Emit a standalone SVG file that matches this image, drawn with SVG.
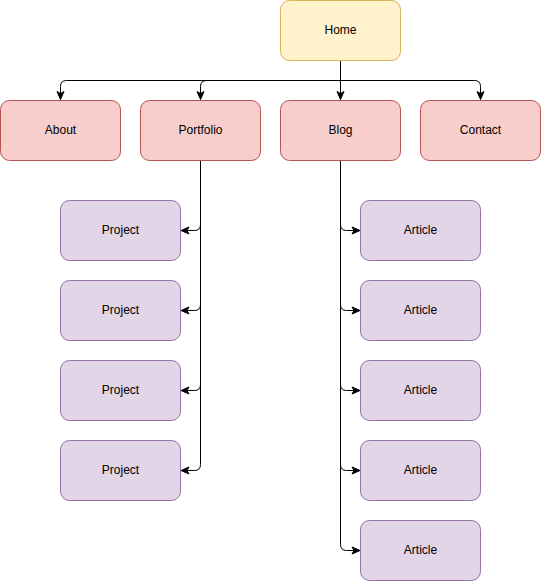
<svg xmlns="http://www.w3.org/2000/svg" width="541" height="581" viewBox="0 0 541 581">
<style>
.y{fill:#fff2cc;stroke:#d6b656;stroke-width:1}
.r{fill:#f8cecc;stroke:#b85450;stroke-width:1}
.p{fill:#e1d5e7;stroke:#9673a6;stroke-width:1}
text{font-family:"Liberation Sans",Arial,sans-serif;font-size:12px;fill:#000;text-anchor:middle;dominant-baseline:central}
.e{fill:none;stroke:#000;stroke-width:1;marker-end:url(#a)}
</style>
<defs>
<marker id="a" markerUnits="userSpaceOnUse" markerWidth="10" markerHeight="10" viewBox="0 0 10 10" refX="9" refY="5" orient="auto">
<path d="M1,1.5 L9,5 L1,8.5 L3,5 Z" fill="#000" stroke="#000" stroke-width="1"/>
</marker>
</defs>
<rect width="541" height="581" fill="#fff"/>
<g id="connectors">
<path class="e" d="M340.5,60.5 V80.5 H66.5 Q60.5,80.5 60.5,86.5 V99.5"/>
<path class="e" d="M340.5,60.5 V80.5 H206.5 Q200.5,80.5 200.5,86.5 V99.5"/>
<path class="e" d="M340.5,60.5 V99.5"/>
<path class="e" d="M340.5,60.5 V80.5 H474.5 Q480.5,80.5 480.5,86.5 V99.5"/>
<path class="e" d="M200.5,160.5 V224.5 Q200.5,230.5 194.5,230.5 H181"/>
<path class="e" d="M200.5,160.5 V304.5 Q200.5,310.5 194.5,310.5 H181"/>
<path class="e" d="M200.5,160.5 V384.5 Q200.5,390.5 194.5,390.5 H181"/>
<path class="e" d="M200.5,160.5 V464.5 Q200.5,470.5 194.5,470.5 H181"/>
<path class="e" d="M340.5,160.5 V224.5 Q340.5,230.5 346.5,230.5 H360"/>
<path class="e" d="M340.5,160.5 V304.5 Q340.5,310.5 346.5,310.5 H360"/>
<path class="e" d="M340.5,160.5 V384.5 Q340.5,390.5 346.5,390.5 H360"/>
<path class="e" d="M340.5,160.5 V464.5 Q340.5,470.5 346.5,470.5 H360"/>
<path class="e" d="M340.5,160.5 V544.5 Q340.5,550.5 346.5,550.5 H360"/>
</g>
<g id="home"><rect class="y" x="280.5" y="0.5" width="120" height="60" rx="9"/><text x="340.5" y="29.5">Home</text></g>
<g id="about"><rect class="r" x="0.5" y="100.5" width="120" height="60" rx="9"/><text x="60.5" y="129.5">About</text></g>
<g id="portfolio"><rect class="r" x="140.5" y="100.5" width="120" height="60" rx="9"/><text x="200.5" y="129.5">Portfolio</text></g>
<g id="blog"><rect class="r" x="280.5" y="100.5" width="120" height="60" rx="9"/><text x="340.5" y="129.5">Blog</text></g>
<g id="contact"><rect class="r" x="420.5" y="100.5" width="120" height="60" rx="9"/><text x="480.5" y="129.5">Contact</text></g>
<g id="project1"><rect class="p" x="60.5" y="200.5" width="120" height="60" rx="9"/><text x="120.5" y="229.5">Project</text></g>
<g id="project2"><rect class="p" x="60.5" y="280.5" width="120" height="60" rx="9"/><text x="120.5" y="309.5">Project</text></g>
<g id="project3"><rect class="p" x="60.5" y="360.5" width="120" height="60" rx="9"/><text x="120.5" y="389.5">Project</text></g>
<g id="project4"><rect class="p" x="60.5" y="440.5" width="120" height="60" rx="9"/><text x="120.5" y="469.5">Project</text></g>
<g id="article1"><rect class="p" x="360.5" y="200.5" width="120" height="60" rx="9"/><text x="420.5" y="229.5">Article</text></g>
<g id="article2"><rect class="p" x="360.5" y="280.5" width="120" height="60" rx="9"/><text x="420.5" y="309.5">Article</text></g>
<g id="article3"><rect class="p" x="360.5" y="360.5" width="120" height="60" rx="9"/><text x="420.5" y="389.5">Article</text></g>
<g id="article4"><rect class="p" x="360.5" y="440.5" width="120" height="60" rx="9"/><text x="420.5" y="469.5">Article</text></g>
<g id="article5"><rect class="p" x="360.5" y="520.5" width="120" height="60" rx="9"/><text x="420.5" y="549.5">Article</text></g>
</svg>
